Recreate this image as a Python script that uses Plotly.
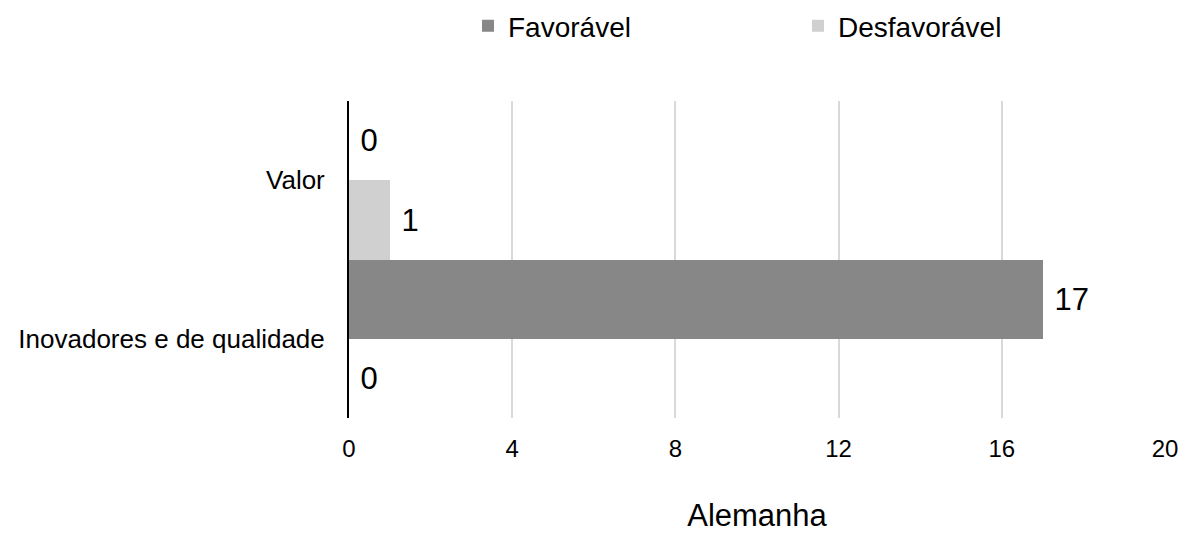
import plotly.graph_objects as go

categories = ["Valor", "Inovadores e de qualidade"]
favoravel = [0, 17]
desfavoravel = [1, 0]
x_ticks = [0, 4, 8, 12, 16, 20]

FONT = "Liberation Sans, Arial, sans-serif"
LABEL_FONT = dict(size=31, color="#000000", family=FONT)

fig = go.Figure()
fig.add_trace(go.Bar(
    name="Favorável", y=categories, x=favoravel, orientation="h",
    marker=dict(color="#878787", line=dict(width=0)),
    texttemplate="\u00a0%{x}", textposition="outside",
    textfont=LABEL_FONT, cliponaxis=False,
))
fig.add_trace(go.Bar(
    name="Desfavorável", y=categories, x=desfavoravel, orientation="h",
    marker=dict(color="#d0d0d0", line=dict(width=0)),
    texttemplate="\u00a0%{x}", textposition="outside",
    textfont=LABEL_FONT, cliponaxis=False,
))

fig.update_layout(
    width=1183, height=533,
    barmode="group", bargap=0, bargroupgap=0,
    plot_bgcolor="white", paper_bgcolor="white",
    margin=dict(l=349, r=18, t=101, b=115, autoexpand=False),
    font=dict(family=FONT, color="#000000", size=24),
    legend=dict(orientation="h", xref="container", x=0.3956, xanchor="left",
                yref="container", y=0.998, yanchor="top",
                font=dict(size=28), traceorder="normal", entrywidth=285),
    xaxis=dict(range=[0, 20], tickvals=x_ticks, showgrid=True, gridcolor="#d9d9d9",
               gridwidth=2, zeroline=False, showline=False, ticks="",
               automargin=False,
               tickfont=dict(size=24), ticklabelstandoff=14,
               title=dict(text="Alemanha", font=dict(size=31), standoff=49)),
    yaxis=dict(autorange="reversed", showline=True, linecolor="#000000", linewidth=2,
               ticks="", automargin=False,
               tickfont=dict(size=26), ticklabelstandoff=17, showgrid=False),
)

fig.write_html(
    "out.html",
    config={"displayModeBar": False},
    post_script="document.body.style.margin='0';document.body.style.overflow='hidden';",
)
